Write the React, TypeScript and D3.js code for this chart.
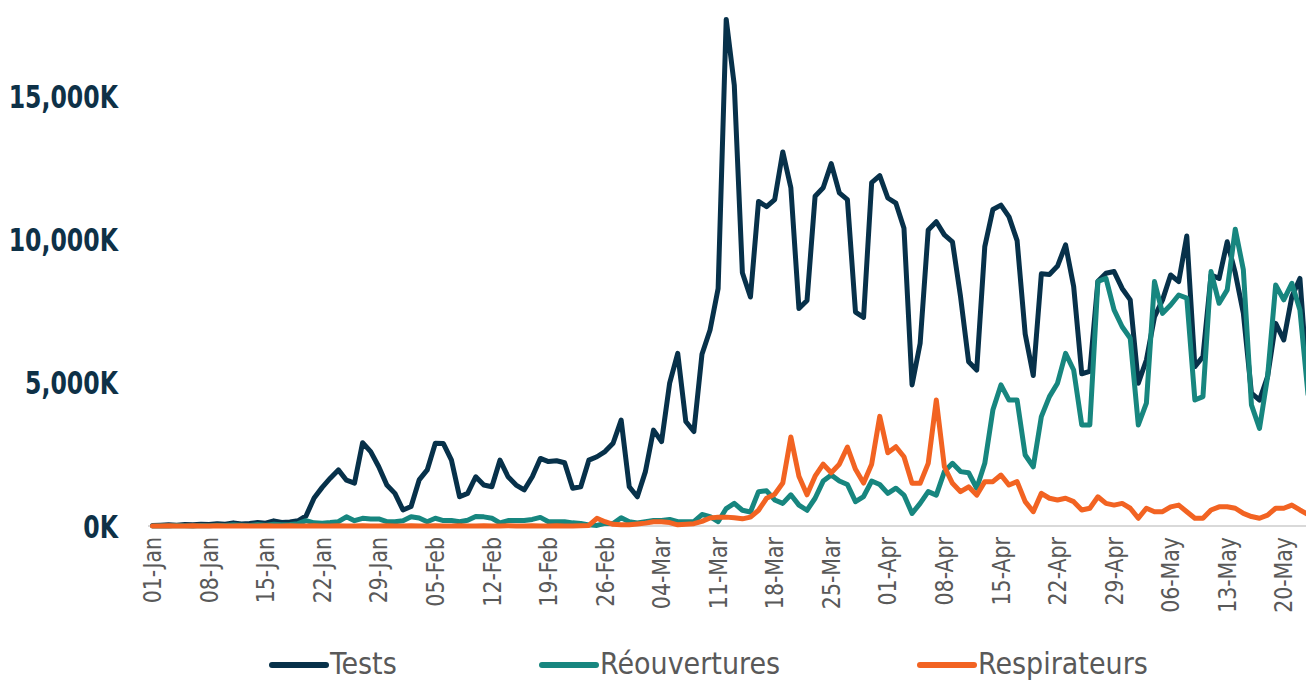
import React from 'react';
import * as d3 from 'd3';

// daily values, 01-Jan-2020 .. 23-May-2020, in thousands
const startDate = new Date(2020, 0, 1);
const dayCount = 144;

const tests = [
  20, 30, 40, 30, 50, 40, 60, 50, 80, 60, 110, 70, 90, 120, 100, 180, 120, 140, 180, 350,
  980, 1350, 1670, 1960, 1600, 1500, 2910, 2600, 2070, 1430, 1140, 560, 680, 1610, 1960, 2890,
  2880, 2300, 1020, 1140, 1720, 1430, 1370, 2300, 1720, 1430, 1260, 1720, 2360, 2250, 2280, 2210,
  1320, 1370, 2300, 2420, 2600, 2890, 3700, 1370, 1020, 1900, 3350, 2950, 4990, 6030, 3650, 3300,
  6000, 6850, 8300, 17700, 15400, 8850, 8000, 11340, 11160, 11400, 13070, 11820, 7600, 7880, 11520, 11820,
  12660, 11640, 11400, 7470, 7290, 12000, 12240, 11460, 11280, 10400, 4930, 6380, 10340, 10630, 10170, 9930,
  8010, 5740, 5450, 9760, 11060, 11210, 10800, 9970, 6710, 5260, 8810, 8790, 9080, 9820, 8370, 5320,
  5400, 8550, 8830, 8890, 8300, 7900, 4990, 5800, 7300, 7900, 8770, 8540, 10130, 5570, 5920, 8770,
  8650, 9930, 8840, 7430, 4640, 4400, 5220, 7080, 6500, 8010, 8650, 4800,
];

const reouvertures = [
  0, 10, 0, 20, 10, 0, 20, 10, 30, 20, 40, 30, 20, 50, 30, 60, 40, 50, 80, 185,
  110, 100, 120, 150, 320, 185, 270, 245, 245, 150, 150, 185, 320, 280, 150, 270,
  190, 190, 150, 200, 330, 320, 270, 110, 190, 190, 190, 230, 300, 150, 150, 150,
  110, 90, 40, 20, 90, 90, 290, 150, 110, 150, 190, 190, 230, 150, 150, 150,
  400, 330, 150, 610, 790, 550, 490, 1200, 1230, 910, 790, 1090, 730, 550, 970, 1570,
  1780, 1570, 1450, 850, 1030, 1570, 1450, 1140, 1320, 1080, 440, 790, 1200, 1080, 1900, 2190,
  1900, 1860, 1320, 2190, 4050, 4930, 4400, 4400, 2480, 2070, 3820, 4520, 4990, 6030, 5450, 3530,
  3530, 8550, 8650, 7550, 6960, 6560, 3530, 4290, 8540, 7430, 7720, 8070, 7960, 4400, 4520, 8890,
  7780, 8250, 10370, 8950, 4230, 3410, 5220, 8420, 7900, 8480, 7550, 4600,
];

const respirateurs = [
  0, 0, 10, 0, 0, 10, 0, 0, 10, 0, 0, 10, 0, 0, 10, 0, 0, 10, 0, 0,
  10, 0, 0, 10, 0, 0, 10, 0, 0, 10, 0, 0, 10, 0, 0, 10,
  0, 0, 10, 0, 0, 10, 0, 0, 10, 0, 0, 10, 0, 0, 10, 0,
  0, 10, 20, 270, 150, 60, 40, 40, 70, 100, 150, 150, 120, 40, 60, 80,
  160, 280, 310, 310, 290, 250, 310, 550, 970, 1110, 1500, 3110, 1740, 1090, 1740, 2160,
  1860, 2160, 2760, 1980, 1500, 2160, 3830, 2560, 2770, 2420, 1490, 1490, 2190, 4400, 2070, 1490,
  1200, 1370, 1080, 1550, 1550, 1780, 1430, 1550, 850, 500, 1140, 970, 910, 970, 850, 560,
  620, 1020, 790, 730, 790, 620, 270, 620, 500, 500, 670, 730, 500, 270, 270, 560,
  670, 670, 620, 440, 330, 270, 380, 620, 620, 730, 560, 400,
];

const seriesNames = ['Tests', 'Réouvertures', 'Respirateurs'];
const seriesColors = ['#07314a', '#17867f', '#f26322'];
const yTicks = [0, 5000, 10000, 15000];

const W = 1306;
const H = 681;
const FONT = "'DejaVu Sans Condensed', 'DejaVu Sans', sans-serif";

export default function App() {
  const dates = d3.range(dayCount).map((i) => d3.timeDay.offset(startDate, i));
  const fmtDate = d3.timeFormat('%d-%b');

  const x = d3.scaleLinear().domain([0, dayCount - 1]).range([152.5, 1308]);
  const y = d3.scaleLinear().domain([0, 18000]).range([526, 10.8]);

  const line = d3
    .line<number>()
    .x((_, i) => x(i))
    .y((d) => y(d));

  const allSeries = [tests, reouvertures, respirateurs];
  const tickIdx = d3.range(0, dayCount, 7);
  const fmtY = (v: number) => d3.format(',')(v) + 'K';

  const legendX = [270, 540, 918];

  return (
    <svg
      width={W}
      height={H}
      style={{ position: 'absolute', left: 0, top: 0, background: '#fff' }}
      fontFamily={FONT}
    >
      {/* baseline */}
      <line x1={148} x2={W} y1={y(0)} y2={y(0)} stroke="#d9d9d9" strokeWidth={2} />

      {/* y axis labels */}
      {yTicks.map((t) => (
        <text
          key={t}
          transform={`translate(118,${y(t)}) scale(0.82,1)`}
          dy="0.36em"
          textAnchor="end"
          fontSize={32}
          fontWeight="bold"
          fill="#0e3147"
        >
          {fmtY(t)}
        </text>
      ))}

      {/* x axis labels */}
      {tickIdx.map((i) => (
        <text
          key={i}
          transform={`translate(${x(i)},${537}) rotate(-90) scale(0.95,1)`}
          dy="0.36em"
          textAnchor="end"
          fontSize={24}
          fill="#595959"
        >
          {fmtDate(dates[i])}
        </text>
      ))}

      {/* lines */}
      {allSeries.map((s, k) => (
        <path
          key={k}
          d={line(s) || ''}
          fill="none"
          stroke={seriesColors[k]}
          strokeWidth={5}
          strokeLinejoin="round"
          strokeLinecap="round"
        />
      ))}

      {/* legend */}
      {seriesNames.map((n, k) => (
        <g key={n} transform={`translate(${legendX[k]},665)`}>
          <line x1={2} x2={56} y1={0} y2={0} stroke={seriesColors[k]} strokeWidth={6} strokeLinecap="round" />
          <text x={60} y={9} fontSize={30} fill="#595959">
            {n}
          </text>
        </g>
      ))}
    </svg>
  );
}
